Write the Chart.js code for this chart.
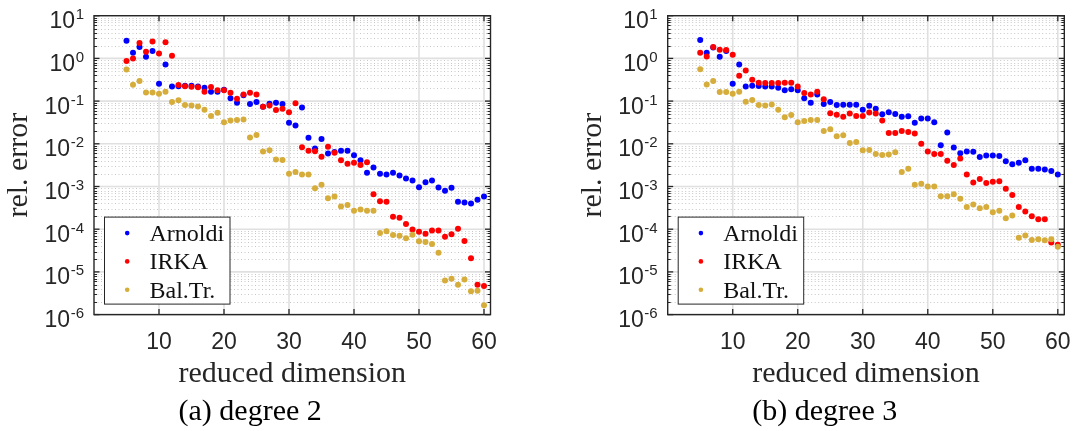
<!DOCTYPE html>
<html>
<head>
<meta charset="utf-8">
<script src="https://cdn.jsdelivr.net/npm/chart.js@4.4.1/dist/chart.umd.min.js"></script>
<style>
  html, body { margin: 0; padding: 0; background: #fff; }
  .panel { position: absolute; top: 0; height: 431px; }
  #panel-a { left: 0; width: 536px; }
  #panel-b { left: 536px; width: 537px; }
</style>
</head>
<body>
<div class="panel" id="panel-a"><canvas id="chart-a" width="536" height="431"></canvas></div>
<div class="panel" id="panel-b"><canvas id="chart-b" width="537" height="431"></canvas></div>
<script>
const dims = [5, 6, 7, 8, 9, 10, 11, 12, 13, 14, 15, 16, 17, 18, 19, 20, 21, 22, 23, 24, 25, 26, 27, 28, 29, 30,
  31, 32, 33, 34, 35, 36, 37, 38, 39, 40, 41, 42, 43, 44, 45, 46, 47, 48, 49, 50, 51, 52, 53, 54, 55, 56, 57, 58, 59, 60];

// (a) degree 2
const arnoldiA = [2.6, 1.36, 1.85, 1.1, 1.5, 0.255, 0.72, 0.22, 0.224, 0.23, 0.23, 0.22, 0.205, 0.166, 0.166, 0.185,
  0.117, 0.091, 0.138, 0.085, 0.095, 0.074, 0.087, 0.091, 0.085, 0.031, 0.027, 0.071, 0.0138, 0.0078, 0.013, 0.0059,
  0.0064, 0.0069, 0.0069, 0.0054, 0.0041, 0.0021, 0.0028, 0.0020, 0.0019, 0.0021, 0.0018, 0.00154, 0.00138, 0.00096,
  0.00126, 0.00138, 0.00095, 0.00079, 0.00093, 0.00044, 0.00042, 0.00040, 0.00049, 0.00058];
const irkaA = [0.87, 1.0, 2.3, 1.43, 2.5, 1.3, 2.4, 1.15, 0.237, 0.224, 0.217, 0.21, 0.166, 0.213, 0.18, 0.18,
  0.157, 0.114, 0.143, 0.157, 0.143, 0.074, 0.079, 0.062, 0.066, 0.055, 0.089, 0.0083, 0.0069, 0.0067, 0.005, 0.0085,
  0.0062, 0.0041, 0.0034, 0.0036, 0.0032, 0.0037, 0.00066, 0.00045, 0.00044, 0.000195, 0.000185, 0.000133, 0.000098,
  0.000087, 0.000078, 0.000093, 0.000093, 0.000067, 0.000076, 0.000102, 0.000053, 0.000021, 0.000005, 0.0000047];
const balTrA = [0.55, 0.24, 0.295, 0.16, 0.16, 0.148, 0.166, 0.095, 0.104, 0.081, 0.079, 0.075, 0.063, 0.045, 0.053,
  0.032, 0.035, 0.036, 0.037, 0.014, 0.016, 0.0066, 0.0071, 0.0043, 0.0042, 0.0020, 0.0022, 0.0019, 0.0019, 0.00091,
  0.0011, 0.00053, 0.00058, 0.00034, 0.00037, 0.00027, 0.00029, 0.00027, 0.00027, 0.000081, 0.000089, 0.000073,
  0.00007, 0.000061, 0.000074, 0.000052, 0.00005, 0.000045, 0.000028, 0.0000063, 0.0000069, 0.000005, 0.0000066,
  0.0000035, 0.0000036, 0.00000166];

// (b) degree 3
const arnoldiB = [2.7, 1.36, 1.8, 1.1, 1.5, 0.255, 0.72, 0.22, 0.23, 0.225, 0.22, 0.22, 0.205, 0.18, 0.19, 0.18,
  0.116, 0.091, 0.143, 0.085, 0.095, 0.081, 0.082, 0.082, 0.082, 0.063, 0.078, 0.066, 0.049, 0.055, 0.05, 0.043,
  0.044, 0.031, 0.039, 0.039, 0.032, 0.0093, 0.0184, 0.0082, 0.006, 0.0066, 0.0065, 0.0049, 0.0053, 0.0053, 0.0052,
  0.0039, 0.0033, 0.0036, 0.0041, 0.0026, 0.0026, 0.0025, 0.0023, 0.0019];
const irkaB = [1.36, 1.11, 1.84, 1.6, 1.57, 1.22, 0.39, 0.52, 0.316, 0.27, 0.264, 0.264, 0.264, 0.27, 0.27, 0.22,
  0.154, 0.143, 0.166, 0.11, 0.052, 0.048, 0.043, 0.051, 0.045, 0.045, 0.054, 0.051, 0.035, 0.018, 0.018, 0.020,
  0.019, 0.0175, 0.010, 0.0066, 0.0058, 0.0058, 0.0040, 0.0032, 0.0045, 0.0019, 0.00124, 0.0015, 0.0012, 0.0013,
  0.00133, 0.00089, 0.00063, 0.00033, 0.00026, 0.0002, 0.00017, 0.00017, 0.000049, 0.000043];
const balTrB = [0.56, 0.245, 0.295, 0.163, 0.163, 0.148, 0.166, 0.097, 0.106, 0.081, 0.079, 0.083, 0.063, 0.042,
  0.047, 0.032, 0.034, 0.036, 0.036, 0.020, 0.022, 0.015, 0.0158, 0.0105, 0.011, 0.0071, 0.0072, 0.0058, 0.0055,
  0.0056, 0.0063, 0.0022, 0.0026, 0.0011, 0.00116, 0.001, 0.001, 0.00059, 0.00059, 0.00066, 0.00052, 0.00033,
  0.00038, 0.00031, 0.00033, 0.00025, 0.00027, 0.00018, 0.00021, 0.000063, 0.000071, 0.000056, 0.000058, 0.000055,
  0.000058, 0.000039];

const seriesNames = ['Arnoldi', 'IRKA', 'Bal.Tr.'];
const seriesColors = ['#0000ff', '#ff0000', '#d6ad3a'];

const xTicks = [10, 20, 30, 40, 50, 60];
const yTicks = [1e-6, 1e-5, 1e-4, 1e-3, 1e-2, 1e-1, 1, 10];
const yTickExp = ['-6', '-5', '-4', '-3', '-2', '-1', '0', '1'];

const AXIS = '#262626';
const SANS = '"Liberation Sans", Arial, sans-serif';
const SERIF = '"Liberation Serif", "Times New Roman", serif';

function hline(ctx, x0, x1, y) { ctx.beginPath(); ctx.moveTo(x0, y); ctx.lineTo(x1, y); ctx.stroke(); }
function vline(ctx, x, y0, y1) { ctx.beginPath(); ctx.moveTo(x, y0); ctx.lineTo(x, y1); ctx.stroke(); }

// MATLAB-like box, grid, inward ticks, labels and legend
const frame = {
  id: 'frame',
  beforeDatasetsDraw(chart) {
    const { ctx, chartArea: a, scales: { x, y } } = chart;
    ctx.save();
    ctx.lineWidth = 1;
    ctx.strokeStyle = '#c8c8c8';
    ctx.setLineDash([1, 2.5]);
    yTicks.forEach(v => {
      for (let m = 2; m <= 9; m++) {
        if (v * m >= y.max) return;
        hline(ctx, a.left, a.right, Math.round(y.getPixelForValue(v * m)) + 0.5);
      }
    });
    ctx.setLineDash([]);
    ctx.strokeStyle = '#e0e0e0';
    ctx.lineWidth = 1.6;
    yTicks.forEach(v => hline(ctx, a.left, a.right, y.getPixelForValue(v)));
    xTicks.forEach(v => vline(ctx, x.getPixelForValue(v), a.top, a.bottom));
    ctx.restore();
  },
  afterDatasetsDraw(chart, args, opts) {
    const { ctx, chartArea: a, scales: { x, y } } = chart;
    ctx.save();
    ctx.strokeStyle = AXIS;
    ctx.lineWidth = 1;
    // minor ticks
    yTicks.forEach(v => {
      for (let m = 2; m <= 9; m++) {
        if (v * m >= y.max) return;
        const py = Math.round(y.getPixelForValue(v * m)) + 0.5;
        hline(ctx, a.left, a.left + 3, py);
        hline(ctx, a.right - 3, a.right, py);
      }
    });
    ctx.lineWidth = 1.3;
    yTicks.forEach(v => {
      const py = y.getPixelForValue(v);
      hline(ctx, a.left, a.left + 5.5, py);
      hline(ctx, a.right - 5.5, a.right, py);
    });
    xTicks.forEach(v => {
      const px = x.getPixelForValue(v);
      vline(ctx, px, a.bottom, a.bottom - 5.5);
      vline(ctx, px, a.top, a.top + 5.5);
    });
    ctx.lineWidth = 1.4;
    ctx.strokeRect(a.left, a.top, a.right - a.left, a.bottom - a.top);

    // tick labels
    ctx.fillStyle = AXIS;
    ctx.textBaseline = 'alphabetic';
    ctx.textAlign = 'center';
    ctx.font = '23px ' + SANS;
    xTicks.forEach(v => ctx.fillText(String(v), x.getPixelForValue(v), a.bottom + 34.5));
    ctx.textAlign = 'left';
    yTicks.forEach((v, i) => {
      const py = y.getPixelForValue(v);
      const xr = a.left - 10;
      ctx.font = '15px ' + SANS;
      const ws = ctx.measureText(yTickExp[i]).width;
      ctx.fillText(yTickExp[i], xr - ws, py + 3.5);
      ctx.font = '23px ' + SANS;
      const wb = ctx.measureText('10').width;
      ctx.fillText('10', xr - ws - wb - 0.5, py + 12.5);
    });

    // axis titles
    ctx.font = '30px ' + SERIF;
    ctx.textAlign = 'center';
    const cx = (a.left + a.right) / 2;
    ctx.fillText('reduced dimension', cx, a.bottom + 67);
    const xw = ctx.measureText('reduced dimension').width;
    ctx.save();
    ctx.translate(a.left - 67, (a.top + a.bottom) / 2);
    ctx.rotate(-Math.PI / 2);
    ctx.fillText('rel. error', 0, 0);
    ctx.restore();

    // caption
    ctx.fillStyle = '#000';
    ctx.textAlign = 'left';
    ctx.fillText(opts.caption, cx - xw / 2, a.bottom + 105);

    // legend
    const lx = a.left + 10.5, lw = 125.5, lh = 87;
    const ly = a.bottom - 10.5 - lh;
    ctx.fillStyle = '#fff';
    ctx.fillRect(lx, ly, lw, lh);
    ctx.strokeStyle = AXIS;
    ctx.lineWidth = 1;
    ctx.strokeRect(lx, ly, lw, lh);
    ctx.font = '24px ' + SERIF;
    chart.data.datasets.forEach((ds, i) => {
      const ry = ly + 16 + i * 28.3;
      ctx.fillStyle = ds.backgroundColor;
      ctx.beginPath();
      ctx.arc(lx + 22.7, ry, 2.3, 0, Math.PI * 2);
      ctx.fill();
      ctx.fillStyle = '#111';
      ctx.fillText(ds.label, lx + 45, ry + 8);
    });
    ctx.restore();
  }
};

function makeChart(id, series, caption, yWidth, padRight) {
  return new Chart(document.getElementById(id), {
    type: 'scatter',
    data: {
      datasets: series.map((vals, i) => ({
        label: seriesNames[i],
        data: dims.map((d, j) => ({ x: d, y: vals[j] })),
        backgroundColor: seriesColors[i],
        borderWidth: 0,
        pointRadius: 3,
        pointHoverRadius: 3,
        order: 3 - i
      }))
    },
    options: {
      responsive: false,
      animation: false,
      events: [],
      layout: { padding: { top: 15.7, right: padRight, left: 0, bottom: 0 } },
      scales: {
        x: {
          type: 'linear', min: 0, max: 61,
          ticks: { display: false }, grid: { display: false }, border: { display: false },
          afterFit: s => { s.height = 116.4; }
        },
        y: {
          type: 'logarithmic', min: 1e-6, max: 10,
          ticks: { display: false }, grid: { display: false }, border: { display: false },
          afterFit: s => { s.width = yWidth; }
        }
      },
      plugins: {
        legend: { display: false },
        tooltip: { enabled: false },
        frame: { caption: caption }
      }
    },
    plugins: [frame]
  });
}

makeChart('chart-a', [arnoldiA, irkaA, balTrA], '(a) degree 2', 94, 45.5);
makeChart('chart-b', [arnoldiB, irkaB, balTrB], '(b) degree 3', 131.7, 8.7);
</script>
</body>
</html>
